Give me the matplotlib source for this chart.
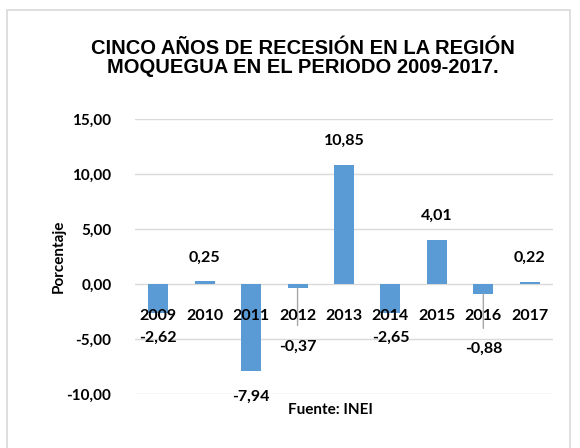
import matplotlib.pyplot as plt
from matplotlib.patches import Rectangle

anios = ['2009', '2010', '2011', '2012', '2013', '2014', '2015', '2016', '2017']
valores = [-2.62, 0.25, -7.94, -0.37, 10.85, -2.65, 4.01, -0.88, 0.22]
ticks_y = [-10, -5, 0, 5, 10, 15]

fuente = 'Lato'
azul = '#5B9BD5'
gris = '#D9D9D9'


def fmt(v):
    return f'{v:.2f}'.replace('.', ',')


fig = plt.figure(figsize=(5.8, 4.48), dpi=100)
fig.patches.append(Rectangle((7 / 580, -0.1), 563 / 580, 1.1 - 10 / 448,
                             transform=fig.transFigure, fill=False,
                             edgecolor=gris, linewidth=1.2))

ax = fig.add_axes([135 / 580, 1 - 394 / 448, 418 / 580, 275 / 448])
x = range(len(anios))
ax.bar(x, valores, width=0.43, color=azul, zorder=2)

ax.set_ylim(-10, 15)
ax.set_xlim(-0.5, len(anios) - 0.5)
ax.set_yticks(ticks_y)
ax.set_yticklabels([fmt(t) for t in ticks_y], fontfamily=fuente,
                   fontweight='bold', fontsize=11)
ax.tick_params(axis='y', length=0, pad=17)
ax.set_xticks([])
ax.grid(axis='y', color=gris, linewidth=1, zorder=0)
for s in ax.spines.values():
    s.set_visible(False)

# años junto al eje (sobre las barras)
for i, a in enumerate(anios):
    ax.annotate(a, (i, 0), xytext=(0, -23), textcoords='offset points',
                ha='center', va='center', fontfamily=fuente,
                fontweight='bold', fontsize=11.5, zorder=4)

# etiquetas de datos
desplaz = {3: -42, 7: -40}
for i, v in enumerate(valores):
    if v >= 0:
        ax.annotate(fmt(v), (i, v), xytext=(0, 17), textcoords='offset points',
                    ha='center', va='center', fontfamily=fuente,
                    fontweight='bold', fontsize=11.5)
    elif i in desplaz:
        ax.annotate(fmt(v), (i, v), xytext=(0, desplaz[i]),
                    textcoords='offset points', ha='center', va='center',
                    fontfamily=fuente, fontweight='bold', fontsize=11.5,
                    arrowprops=dict(arrowstyle='-', color='#A6A6A6', lw=1,
                                    shrinkA=8, shrinkB=0))
    else:
        ax.annotate(fmt(v), (i, v), xytext=(0, -18), textcoords='offset points',
                    ha='center', va='center', fontfamily=fuente,
                    fontweight='bold', fontsize=11.5)

ax.set_ylabel('Porcentaje', fontfamily=fuente, fontweight='bold', fontsize=11)
ax.yaxis.set_label_coords(-0.165, 0.5)

fig.text(303 / 580, 1 - 58 / 448, 'CINCO AÑOS DE RECESIÓN EN LA REGIÓN\nMOQUEGUA EN EL PERIODO 2009-2017.',
         ha='center', va='center', fontfamily='Liberation Sans',
         fontweight='bold', fontsize=14.5, linespacing=0.95)
fig.text(330 / 580, 1 - 410 / 448, 'Fuente: INEI', ha='center', va='center',
         fontfamily=fuente, fontweight='bold', fontsize=11)

fig.savefig('out.png', dpi=100)
